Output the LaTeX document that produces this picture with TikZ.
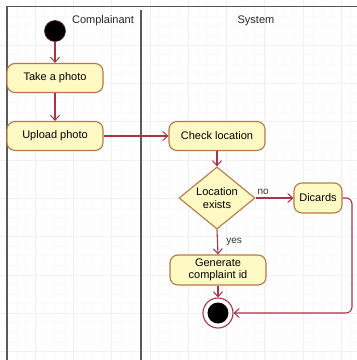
\documentclass[tikz,border=0pt]{standalone}
\usepackage{fontspec}
\setmainfont{Liberation Sans}
\usetikzlibrary{shapes.geometric,arrows.meta}
\definecolor{edgec}{RGB}{168,52,72}
\definecolor{nodefill}{RGB}{255,250,196}
\definecolor{nodeline}{RGB}{184,120,70}
\definecolor{framec}{RGB}{90,90,90}
\tikzset{
  act/.style={draw=nodeline, fill=nodefill, line width=1.1pt, rounded corners=8pt, minimum height=29pt, inner sep=2pt, font=\fontsize{11}{12}\selectfont, align=center},
  dec/.style={draw=nodeline, fill=nodefill, line width=1.1pt, diamond, minimum width=76pt, minimum height=38pt, inner sep=0pt, font=\fontsize{11}{12.5}\selectfont, align=center},
  flow/.style={draw=edgec, line width=1.1pt, -{Straight Barb[length=5pt,width=9pt,line width=1pt]}},
  lbl/.style={font=\fontsize{10}{12}\selectfont, text=black!80},
  lane/.style={draw=framec, line width=1.5pt}
}
\begin{document}
\begin{tikzpicture}[x=1pt,y=-1pt]
\useasboundingbox (0,0) rectangle (357,360);
\fill[white] (0,0) rectangle (357,360);
% minor grid
\foreach \i in {0,...,40} {
  \draw[gray!4, line width=0.4pt] ({35+38.3*(\i-4)/4},0) -- ({35+38.3*(\i-4)/4},360);
  \draw[gray!4, line width=0.4pt] (0,{45+38.3*(\i-4)/4}) -- (357,{45+38.3*(\i-4)/4});
}
% major grid
\foreach \i in {-1,...,9} {
  \draw[gray!11, line width=0.6pt] ({35+38.3*\i},0) -- ({35+38.3*\i},360);
  \draw[gray!11, line width=0.6pt] (0,{45+38.3*\i}) -- (357,{45+38.3*\i});
}
% swimlane frame
\draw[lane] (7,360) -- (7,6.5) -- (357,6.5);
\draw[lane] (141,10) -- (141,360);
\node[font=\fontsize{11}{12}\selectfont, text=black!85] (cl) at (103,21) {Complainant};
\node[font=\fontsize{11}{12}\selectfont, text=black!85] (sl) at (256,21) {System};
% nodes
\node[circle, fill=black, draw=edgec!60!black, line width=0.6pt, minimum size=21pt, inner sep=0pt] (start) at (55,31) {};
\node[act, minimum width=96pt] (take) at (55,78) {Take a photo};
\node[act, minimum width=96pt] (upload) at (55,136) {Upload photo};
\node[act, minimum width=96pt] (check) at (217,136) {Check location};
\node[dec] (dec) at (217,198) {Location\\exists};
\node[act, minimum width=48pt, minimum height=30pt] (disc) at (318,198) {Dicards};
\node[act, minimum width=96pt, minimum height=30pt, font=\fontsize{11}{12.5}\selectfont] (gen) at (218,270) {Generate\\complaint id};
\node[circle, draw=edgec, fill=white, line width=1.1pt, minimum size=30pt, inner sep=0pt] (end) at (218,313) {};
\node[circle, fill=black, minimum size=21pt, inner sep=0pt] (endin) at (end.center) {};
% edges
\draw[flow] (start) -- (take);
\draw[flow] (take) -- (upload);
\draw[flow] (upload) -- (check);
\draw[flow] (check) -- (dec);
\draw[flow] (dec.east) -- node[lbl, above, pos=0.2] {no} (disc.west);
\draw[flow] (dec.south) -- node[lbl, right, pos=0.5, xshift=5pt] {yes} (gen.north);
\draw[flow] (gen) -- (end);
\coordinate (c1) at (352,198);
\coordinate (c2) at (352,313);
\draw[flow, rounded corners=6pt] (disc.east) -- (c1) -- (c2) -- (end.east);
\end{tikzpicture}
\end{document}
